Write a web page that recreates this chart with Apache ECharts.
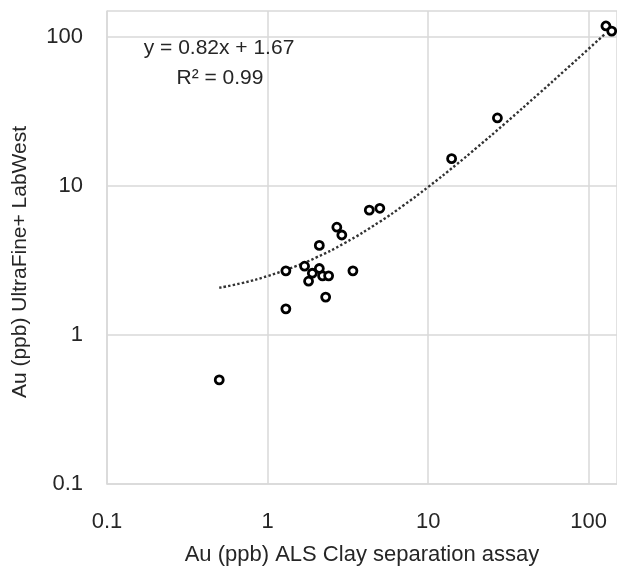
<!DOCTYPE html>
<html>
<head>
<meta charset="utf-8">
<script src="https://cdn.jsdelivr.net/npm/echarts@6/dist/echarts.min.js"></script>
<style>html,body{margin:0;padding:0;background:#fff;}#chart{width:617px;height:571px;}</style>
</head>
<body>
<div id="chart"></div>
<script>
// Data
const alsClay   = [0.5, 1.3, 1.3, 1.7, 1.8, 1.9, 2.1, 2.1, 2.2, 2.4, 2.3, 2.7, 2.9, 3.4, 4.3, 5.0, 14, 27, 128, 139];
const ultraFine = [0.5, 1.5, 2.7, 2.9, 2.3, 2.6, 2.8, 4.0, 2.5, 2.5, 1.8, 5.3, 4.7, 2.7, 6.9, 7.1, 15.3, 28.7, 119, 110];
// Trendline as drawn (dotted curve)
const trendX = [0.5, 0.7, 1, 1.5, 2, 3, 5, 7, 10, 15, 20, 30, 50, 70, 100, 125];
const trendY = [2.08, 2.24, 2.49, 2.9, 3.31, 4.13, 5.77, 7.41, 9.87, 13.97, 18.07, 26.27, 42.67, 59.07, 83.67, 104.2];
const eqLabel = 'y = 0.82x + 1.67';
const r2Label = 'R\u00B2 = 0.99';
const xTitle = 'Au (ppb) ALS Clay separation assay';
const yTitle = 'Au (ppb) UltraFine+ LabWest';
const axisMin = 0.1, axisMax = 150;

const FONT = 'Liberation Sans';
const TXT = '#262626';
const GRID = '#d9d9d9';

const chart = echarts.init(document.getElementById('chart'), null, {renderer: 'canvas'});
const axisCommon = {
  type: 'log', logBase: 10, min: axisMin, max: axisMax,
  axisLine: {show: true, lineStyle: {color: GRID, width: 1.5}},
  axisTick: {show: false},
  minorTick: {show: false},
  splitLine: {show: true, lineStyle: {color: GRID, width: 1.5}},
  axisLabel: {color: TXT, fontFamily: FONT, fontSize: 22, margin: 24, showMaxLabel: false},
  nameLocation: 'middle',
  nameTextStyle: {color: TXT, fontFamily: FONT, fontSize: 22}
};
chart.setOption({
  animation: false,
  backgroundColor: '#fff',
  grid: {left: 107, top: 11, width: 511, height: 479, containLabel: false},
  xAxis: Object.assign({}, axisCommon, {name: xTitle, nameGap: 60,
    axisLabel: Object.assign({}, axisCommon.axisLabel, {margin: 27})}),
  yAxis: Object.assign({}, axisCommon, {name: ''}),
  graphic: [
    {type: 'text', z: 100, style: {text: eqLabel, x: 219, y: 48, align: 'center', verticalAlign: 'middle', fill: TXT, font: '21px ' + FONT}},
    {type: 'text', z: 100, style: {text: r2Label, x: 220, y: 78, align: 'center', verticalAlign: 'middle', fill: TXT, font: '21px ' + FONT}},
    {type: 'text', z: 100, x: 20, y: 262, rotation: Math.PI / 2,
      style: {text: yTitle, x: 0, y: 0, align: 'center', verticalAlign: 'middle', fill: TXT, font: '21px ' + FONT}}
  ],
  series: [
    {
      type: 'line', data: trendX.map((x, i) => [x, trendY[i]]),
      smooth: true, showSymbol: false, symbol: 'none',
      lineStyle: {color: '#333', width: 2.4, type: [2.4, 2.2]}, z: 2
    },
    {
      type: 'scatter', data: alsClay.map((x, i) => [x, ultraFine[i]]),
      symbol: 'circle', symbolSize: 8,
      itemStyle: {color: '#fff', borderColor: '#000', borderWidth: 2.8, opacity: 1}, z: 3
    }
  ]
});
</script>
</body>
</html>
